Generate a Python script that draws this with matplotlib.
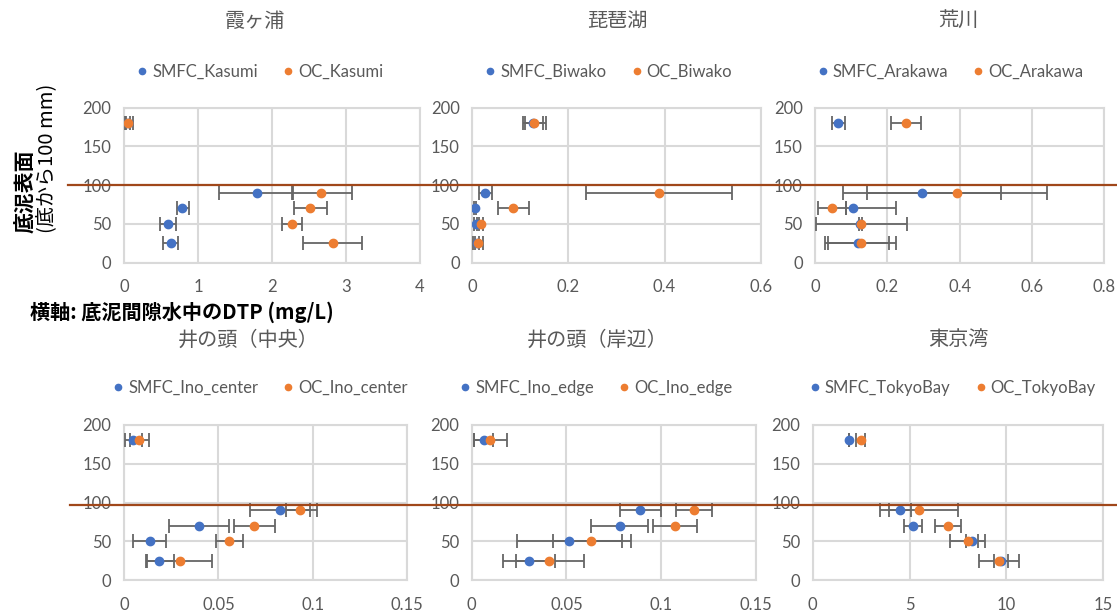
import matplotlib
matplotlib.use('Agg')
import matplotlib.pyplot as plt
from matplotlib.lines import Line2D
from matplotlib.ticker import FuncFormatter
import numpy as np

plt.rcParams['font.family'] = ['Lato', 'Noto Sans CJK JP', 'DejaVu Sans']

# depth (mm) of each sample
depth = [180, 90, 70, 50, 25]

# --- 霞ヶ浦
kasumi_smfc = [0.05, 1.80, 0.79, 0.59, 0.63]
kasumi_smfc_lo = [0.03, 1.28, 0.71, 0.48, 0.53]
kasumi_smfc_hi = [0.08, 2.28, 0.88, 0.70, 0.73]
kasumi_oc = [0.06, 2.66, 2.52, 2.27, 2.82]
kasumi_oc_lo = [0.01, 2.27, 2.30, 2.14, 2.42]
kasumi_oc_hi = [0.12, 3.08, 2.75, 2.40, 3.21]

# --- 琵琶湖
biwako_smfc = [0.127, 0.027, 0.006, 0.007, 0.010]
biwako_smfc_lo = [0.110, 0.013, 0.004, 0.004, 0.005]
biwako_smfc_hi = [0.148, 0.042, 0.008, 0.010, 0.015]
biwako_oc = [0.128, 0.389, 0.085, 0.018, 0.012]
biwako_oc_lo = [0.105, 0.236, 0.053, 0.014, 0.002]
biwako_oc_hi = [0.153, 0.541, 0.117, 0.022, 0.023]

# --- 荒川
arakawa_smfc = [0.062, 0.297, 0.105, 0.125, 0.117]
arakawa_smfc_lo = [0.046, 0.076, 0.086, 0.120, 0.036]
arakawa_smfc_hi = [0.082, 0.515, 0.223, 0.130, 0.205]
arakawa_oc = [0.251, 0.392, 0.045, 0.128, 0.128]
arakawa_oc_lo = [0.211, 0.142, 0.007, 0.001, 0.028]
arakawa_oc_hi = [0.293, 0.641, 0.086, 0.255, 0.224]

# --- 井の頭（中央）
inoc_smfc = [0.0049, 0.0826, 0.0395, 0.0136, 0.0187]
inoc_smfc_lo = [0.0004, 0.0667, 0.0237, 0.0049, 0.0116]
inoc_smfc_hi = [0.0094, 0.0985, 0.0556, 0.0222, 0.0263]
inoc_oc = [0.0079, 0.0932, 0.0688, 0.0556, 0.0298]
inoc_oc_lo = [0.0030, 0.0856, 0.0580, 0.0489, 0.0122]
inoc_oc_hi = [0.0132, 0.1020, 0.0801, 0.0632, 0.0467]

# --- 井の頭（岸辺）
inoe_smfc = [0.0063, 0.0888, 0.0780, 0.0513, 0.0301]
inoe_smfc_lo = [0.0014, 0.0784, 0.0629, 0.0239, 0.0165]
inoe_smfc_hi = [0.0112, 0.0997, 0.0932, 0.0791, 0.0439]
inoe_oc = [0.0098, 0.1171, 0.1072, 0.0631, 0.0408]
inoe_oc_lo = [0.0010, 0.1078, 0.0955, 0.0427, 0.0232]
inoe_oc_hi = [0.0188, 0.1267, 0.1188, 0.0842, 0.0592]

# --- 東京湾
tokyo_smfc = [1.85, 4.49, 5.19, 8.22, 9.74]
tokyo_smfc_lo = [1.85, 3.92, 4.71, 7.90, 9.37]
tokyo_smfc_hi = [1.85, 5.09, 5.65, 8.55, 10.10]
tokyo_oc = [2.47, 5.48, 6.97, 8.02, 9.61]
tokyo_oc_lo = [2.22, 3.46, 6.30, 7.07, 8.60]
tokyo_oc_hi = [2.72, 7.48, 7.64, 8.90, 10.64]

titles = ['霞ヶ浦', '琵琶湖', '荒川', '井の頭（中央）', '井の頭（岸辺）', '東京湾']
names = ['Kasumi', 'Biwako', 'Arakawa', 'Ino_center', 'Ino_edge', 'TokyoBay']
xmax = [4, 0.6, 0.8, 0.15, 0.15, 15]
xstep = [1, 0.2, 0.2, 0.05, 0.05, 5]

panels = [
    (kasumi_smfc, kasumi_smfc_lo, kasumi_smfc_hi, kasumi_oc, kasumi_oc_lo, kasumi_oc_hi),
    (biwako_smfc, biwako_smfc_lo, biwako_smfc_hi, biwako_oc, biwako_oc_lo, biwako_oc_hi),
    (arakawa_smfc, arakawa_smfc_lo, arakawa_smfc_hi, arakawa_oc, arakawa_oc_lo, arakawa_oc_hi),
    (inoc_smfc, inoc_smfc_lo, inoc_smfc_hi, inoc_oc, inoc_oc_lo, inoc_oc_hi),
    (inoe_smfc, inoe_smfc_lo, inoe_smfc_hi, inoe_oc, inoe_oc_lo, inoe_oc_hi),
    (tokyo_smfc, tokyo_smfc_lo, tokyo_smfc_hi, tokyo_oc, tokyo_oc_lo, tokyo_oc_hi),
]

# axes rectangles [left, bottom, width, height] in figure fraction
rects = [
    [0.1110, 0.5715, 0.2650, 0.2529],
    [0.4228, 0.5715, 0.2582, 0.2529],
    [0.7299, 0.5715, 0.2585, 0.2529],
    [0.1110, 0.0538, 0.2536, 0.2529],
    [0.4223, 0.0538, 0.2545, 0.2529],
    [0.7276, 0.0538, 0.2602, 0.2529],
]
# chart title / legend centres (figure fraction), Excel centres them on the chart area
title_pos = [(0.228, 0.9657), (0.553, 0.9657), (0.858, 0.9657),
             (0.222, 0.4454), (0.535, 0.4454), (0.858, 0.4454)]
legend_pos = [(0.233, 0.8825), (0.545, 0.8825), (0.851, 0.8825),
              (0.233, 0.367), (0.534, 0.367), (0.853, 0.367)]

BLUE = '#4472C4'
ORANGE = '#ED7D31'
GRAY = '#595959'
GRID = '#D9D9D9'
ERR = '#666666'
CJK = ['Noto Sans CJK JP', 'DejaVu Sans']

fig = plt.figure(figsize=(11.17, 6.13), dpi=100)

for i, (sm, sm_lo, sm_hi, oc, oc_lo, oc_hi) in enumerate(panels):
    ax = fig.add_axes(rects[i])
    sm = np.array(sm); oc = np.array(oc)
    sm_err = [sm - np.array(sm_lo), np.array(sm_hi) - sm]
    oc_err = [oc - np.array(oc_lo), np.array(oc_hi) - oc]
    for x, e in [(sm, sm_err), (oc, oc_err)]:
        ax.errorbar(x, depth, xerr=e, fmt='none', ecolor=ERR, elinewidth=1.3,
                    capsize=5, capthick=1.3, zorder=3)
    ax.plot(sm, depth, 'o', color=BLUE, ms=6, zorder=4)
    ax.plot(oc, depth, 'o', color=ORANGE, ms=6, zorder=5)

    ax.set_xlim(0, xmax[i])
    ax.set_ylim(0, 200)
    ax.set_xticks(np.arange(0, xmax[i] + xstep[i] / 2, xstep[i]))
    ax.set_yticks([0, 50, 100, 150, 200])
    ax.xaxis.set_major_formatter(FuncFormatter(lambda v, p: '%g' % round(v, 4)))
    ax.grid(True, color=GRID, lw=1.5)
    ax.set_axisbelow(True)
    for s in ax.spines.values():
        s.set_color(GRID)
        s.set_linewidth(1.5)
    ax.tick_params(length=0, labelsize=12, labelcolor=GRAY, pad=9)
    ax.tick_params(axis='x', pad=12)

    fig.text(title_pos[i][0], title_pos[i][1], titles[i], ha='center', va='center',
             fontsize=14.5, color=GRAY, family=CJK)
    handles = [Line2D([], [], ls='none', marker='o', color=BLUE, ms=4.5),
               Line2D([], [], ls='none', marker='o', color=ORANGE, ms=4.5)]
    fig.legend(handles, ['SMFC_' + names[i], 'OC_' + names[i]], ncol=2, frameon=False,
               loc='center', bbox_to_anchor=legend_pos[i], fontsize=12,
               labelcolor=GRAY, handlelength=0.6, handletextpad=0.3, columnspacing=1.5)

# horizontal reference lines across each row
fig.add_artist(Line2D([0.061, 1.0], [0.699, 0.699], color='#A0471A', lw=1.6))
fig.add_artist(Line2D([0.063, 1.0], [0.1754, 0.1754], color='#A0471A', lw=1.6))

fig.text(0.023, 0.62, '底泥表面', rotation=90, ha='center', va='bottom',
         fontsize=15, fontweight='bold', family=CJK)
fig.text(0.042, 0.62, '(底から100 mm)', rotation=90, ha='center', va='bottom',
         fontsize=14.5, family=CJK)
fig.text(0.027, 0.491, '横軸: 底泥間隙水中のDTP (mg/L)', ha='left', va='center',
         fontsize=14.5, fontweight='bold', family=CJK)

fig.savefig('out.png', dpi=100)
